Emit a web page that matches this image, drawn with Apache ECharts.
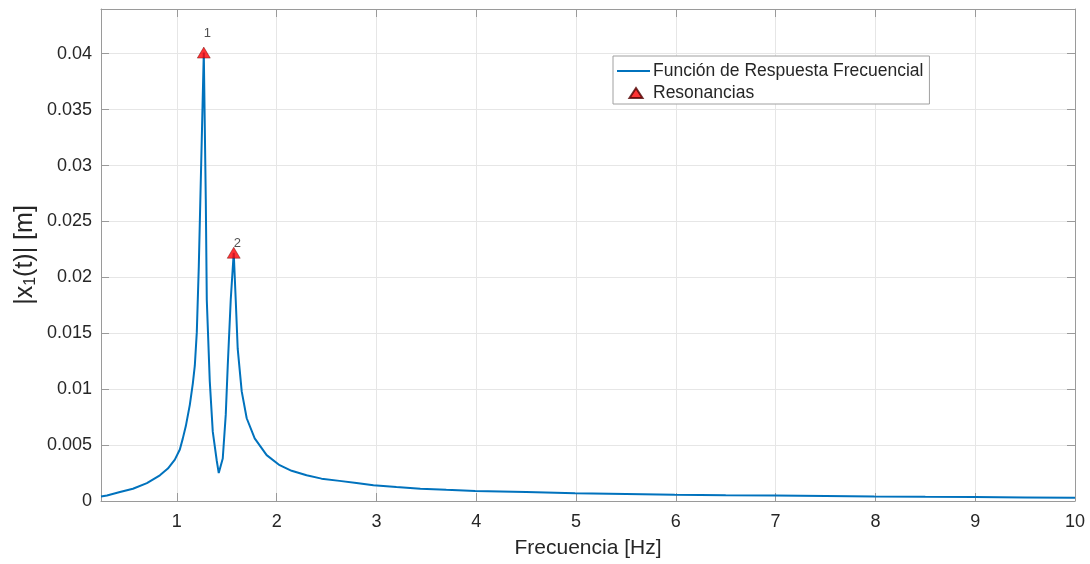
<!DOCTYPE html>
<html>
<head>
<meta charset="utf-8">
<script src="https://cdn.jsdelivr.net/npm/echarts@6/dist/echarts.min.js"></script>
<style>
  html, body { margin: 0; padding: 0; background: #fff; }
  #frfChart { width: 1090px; height: 564px; }
</style>
</head>
<body>
<div id="frfChart"></div>
<script>
  // frecuencias [Hz]
  var freq = [0.24, 0.30, 0.43, 0.56, 0.70, 0.83, 0.91, 0.98, 1.03, 1.06, 1.09, 1.13, 1.16, 1.18, 1.20, 1.22,
    1.27, 1.29, 1.30, 1.33, 1.36, 1.40, 1.42, 1.46, 1.49, 1.51, 1.54, 1.57, 1.59, 1.61, 1.65, 1.70,
    1.78, 1.90, 2.03, 2.15, 2.30, 2.45, 2.63, 2.80, 2.97, 3.20, 3.44, 3.70, 3.99, 4.50, 4.99, 5.50,
    5.99, 6.50, 6.99, 7.50, 7.99, 8.50, 8.99, 9.50, 10.0];
  // amplitud |x1(t)| [m]
  var amp = [0.0004, 0.0005, 0.0008, 0.0011, 0.0016, 0.0023, 0.0029, 0.0037, 0.0046, 0.0056, 0.0067, 0.0086, 0.0105, 0.0121, 0.0151, 0.0210,
    0.0401, 0.0270, 0.0180, 0.0107, 0.0062, 0.0036, 0.0025, 0.0038, 0.0077, 0.0121, 0.0180, 0.0222, 0.0180, 0.0136, 0.0098, 0.0074,
    0.0056, 0.0041, 0.0032, 0.0027, 0.0023, 0.0020, 0.0018, 0.0016, 0.0014, 0.00125, 0.0011, 0.0010, 0.0009, 0.0008, 0.0007, 0.00062,
    0.00055, 0.00052, 0.0005, 0.00045, 0.0004, 0.00037, 0.00035, 0.00032, 0.0003];

  // resonancias
  var peakFreq = [1.27, 1.57];
  var peakAmp = [0.0401, 0.0222];
  var peakNames = ['1', '2'];

  var xTicks = [1, 2, 3, 4, 5, 6, 7, 8, 9, 10];

  var txtColor = '#262626';
  var axColor = '#9a9a9a';
  var fontName = 'Liberation Sans';

  var frf = freq.map(function (f, i) { return [f, amp[i]]; });
  var peaks = peakFreq.map(function (f, i) { return [f, peakAmp[i]]; });
  // etiquetas a 1.05 veces la amplitud (como text() en matlab)
  var peakLabels = peakFreq.map(function (f, i) { return [f, peakAmp[i] * 1.05]; });

  var chart = echarts.init(document.getElementById('frfChart'));

  // ejes de arriba/derecha solo para la caja con ticks
  function boxAxis(pos, isX) {
    var ax = {
      type: 'value',
      position: pos,
      min: isX ? 0.24 : 0,
      max: isX ? 10 : 0.044,
      axisLine: { show: true, onZero: false, lineStyle: { color: axColor, width: 1 } },
      axisTick: { show: true, inside: true, length: 8, lineStyle: { color: axColor } },
      axisLabel: { show: false },
      splitLine: { show: false }
    };
    if (isX) ax.axisTick.customValues = xTicks;
    else ax.interval = 0.005;
    return ax;
  }

  var option = {
    backgroundColor: '#fff',
    animation: false,
    textStyle: { fontFamily: fontName },
    grid: { left: 101, right: 15, top: 9, bottom: 61, containLabel: false },
    legend: {
      left: 613,
      top: 56,
      orient: 'vertical',
      data: [
        { name: 'Función de Respuesta Frecuencial', icon: 'path://M0,0M33,14M0,6H33V8H0Z' },
        { name: 'Resonancias', icon: 'path://M0,0M33,14M19,2L25.5,12L12.5,12Z' }
      ],
      backgroundColor: '#fff',
      borderColor: '#a0a0a0',
      borderWidth: 1,
      borderRadius: 0,
      padding: [6, 6, 2, 3],
      itemGap: 4,
      itemWidth: 33,
      itemHeight: 14,
      textStyle: { fontSize: 17.5, color: txtColor, fontFamily: fontName, padding: [0, 0, 0, -2] }
    },
    xAxis: [{
      type: 'value',
      min: 0.24,
      max: 10,
      name: 'Frecuencia [Hz]',
      nameLocation: 'middle',
      nameGap: 37,
      nameTextStyle: { fontSize: 21, color: txtColor },
      axisLine: { show: true, onZero: false, lineStyle: { color: axColor, width: 1 } },
      axisTick: { show: true, inside: true, length: 8, customValues: xTicks, lineStyle: { color: axColor } },
      axisLabel: { fontSize: 18, color: txtColor, margin: 12, customValues: xTicks },
      splitLine: { show: true, lineStyle: { color: '#e6e6e6', width: 1 } }
    }, boxAxis('top', true)],
    yAxis: [{
      type: 'value',
      min: 0,
      max: 0.044,
      interval: 0.005,
      name: '{n||x}{s|1}{n|(t)| [m]}',
      nameLocation: 'middle',
      nameRotate: 90,
      nameGap: 60,
      nameMoveOverlap: false,
      nameTextStyle: {
        color: txtColor,
        rich: {
          n: { fontSize: 25, color: txtColor, lineHeight: 32, verticalAlign: 'middle' },
          s: { fontSize: 16, color: txtColor, lineHeight: 32, verticalAlign: 'bottom', padding: [0, 0, 2, 0] }
        }
      },
      axisLine: { show: true, lineStyle: { color: axColor, width: 1 } },
      axisTick: { show: true, inside: true, length: 8, lineStyle: { color: axColor } },
      axisLabel: {
        fontSize: 18, color: txtColor, margin: 9,
        showMaxLabel: false,
        formatter: function (v) { return parseFloat(v.toFixed(3)).toString(); }
      },
      splitLine: { show: true, lineStyle: { color: '#e6e6e6', width: 1 } }
    }, boxAxis('right', false)],
    series: [
      {
        name: 'Función de Respuesta Frecuencial',
        type: 'line',
        data: frf,
        showSymbol: false,
        symbol: 'none',
        smooth: false,
        lineStyle: { color: '#0072BD', width: 2 },
        itemStyle: { color: '#0072BD' },
        z: 2
      },
      {
        name: 'Resonancias',
        type: 'scatter',
        data: peaks,
        symbol: 'triangle',
        symbolSize: [13, 11],
        itemStyle: { color: '#ff0000', borderColor: '#500000', borderWidth: 0.5 },
        z: 3
      },
      {
        name: 'etiquetas',
        type: 'scatter',
        data: peakLabels,
        symbolSize: 0,
        silent: true,
        label: {
          show: true,
          position: 'right',
          distance: 0,
          offset: [0, 3],
          fontSize: 13,
          color: txtColor,
          formatter: function (p) { return peakNames[p.dataIndex]; }
        },
        z: 4
      }
    ]
  };

  chart.setOption(option);
</script>
</body>
</html>
